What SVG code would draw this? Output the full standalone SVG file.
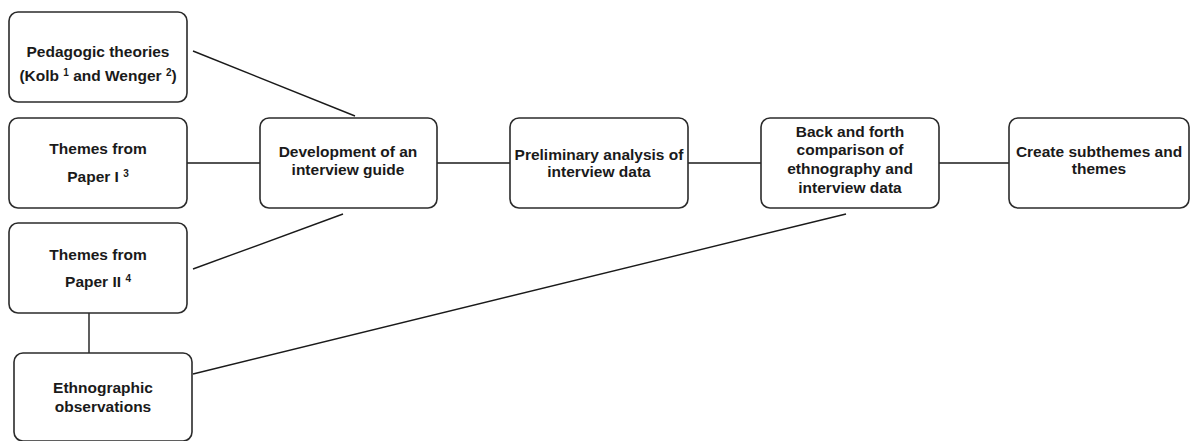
<svg xmlns="http://www.w3.org/2000/svg" width="1194" height="441" viewBox="0 0 1194 441">
<style>
.box{fill:#fff;stroke:#2b2b2b;stroke-width:1.6}
.t{font-family:"Liberation Sans",Arial,sans-serif;font-weight:bold;font-size:15.5px;fill:#1a1a1a;text-anchor:middle}
.sup{font-size:10px}
.ln{stroke:#1a1a1a;stroke-width:1.4;fill:none}
</style>
<rect width="1194" height="441" fill="#fff"/>
<g id="connectors">
<line class="ln" x1="193" y1="51" x2="355" y2="116"/>
<line class="ln" x1="187" y1="163" x2="260" y2="163"/>
<line class="ln" x1="193" y1="269" x2="343" y2="214"/>
<line class="ln" x1="89" y1="313" x2="89" y2="353"/>
<line class="ln" x1="193" y1="374" x2="846" y2="214"/>
<line class="ln" x1="437" y1="163" x2="510" y2="163"/>
<line class="ln" x1="688" y1="163" x2="761" y2="163"/>
<line class="ln" x1="939" y1="163" x2="1009" y2="163"/>
</g>
<g id="pedagogic">
<rect class="box" x="9" y="12" width="178" height="90" rx="9"/>
<text class="t" x="98" y="57">Pedagogic theories</text>
<text class="t" x="98" y="81">(Kolb <tspan class="sup" dy="-5">1</tspan><tspan dy="5"> and Wenger </tspan><tspan class="sup" dy="-5">2</tspan><tspan dy="5">)</tspan></text>
</g>
<g id="paper1">
<rect class="box" x="9" y="118" width="178" height="90" rx="9"/>
<text class="t" x="98" y="154">Themes from</text>
<text class="t" x="98" y="182">Paper I <tspan class="sup" dy="-5">3</tspan></text>
</g>
<g id="paper2">
<rect class="box" x="9" y="223" width="178" height="90" rx="9"/>
<text class="t" x="98" y="260">Themes from</text>
<text class="t" x="98" y="287">Paper II  <tspan class="sup" dy="-5">4</tspan></text>
</g>
<g id="ethno">
<rect class="box" x="14" y="353" width="178" height="88" rx="9"/>
<text class="t" x="103" y="393">Ethnographic</text>
<text class="t" x="103" y="412">observations</text>
</g>
<g id="development">
<rect class="box" x="260" y="118" width="177" height="90" rx="9"/>
<text class="t" x="348" y="157">Development of an</text>
<text class="t" x="348" y="175">interview guide</text>
</g>
<g id="preliminary">
<rect class="box" x="510" y="118" width="178" height="90" rx="9"/>
<text class="t" x="599" y="160">Preliminary analysis of</text>
<text class="t" x="599" y="177">interview data</text>
</g>
<g id="backforth">
<rect class="box" x="761" y="118" width="178" height="90" rx="9"/>
<text class="t" x="850" y="137">Back and forth</text>
<text class="t" x="850" y="155">comparison of</text>
<text class="t" x="850" y="174">ethnography and</text>
<text class="t" x="850" y="193">interview data</text>
</g>
<g id="create">
<rect class="box" x="1009" y="118" width="180" height="90" rx="9"/>
<text class="t" x="1099" y="157">Create subthemes and</text>
<text class="t" x="1099" y="174">themes</text>
</g>
</svg>
